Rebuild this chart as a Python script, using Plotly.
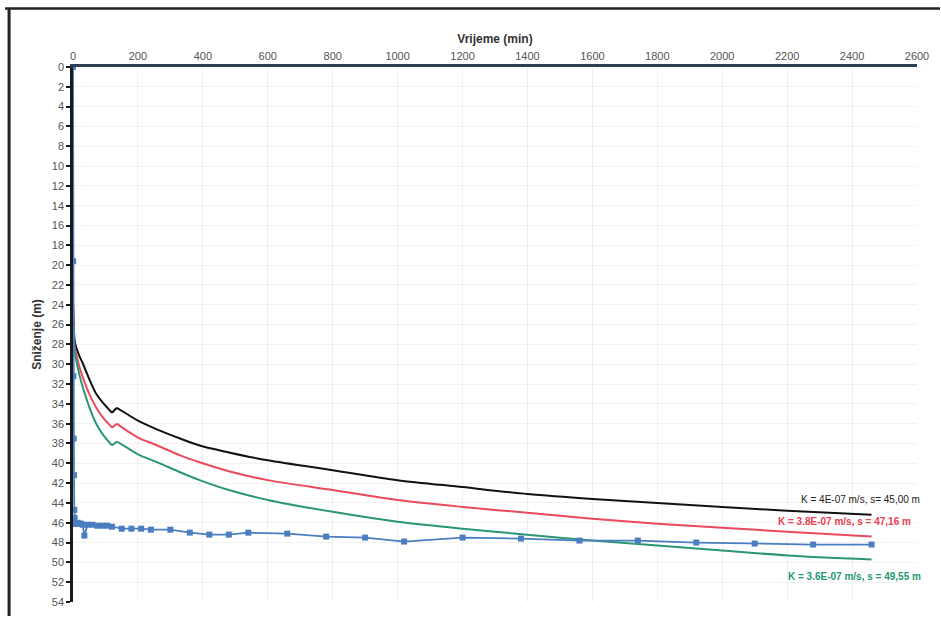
import plotly.graph_objects as go

# ---- data ----
t_model = [0.5, 5, 10, 20, 30, 50, 70, 90, 120, 135, 170, 200, 260, 330, 390, 480, 600, 800,
           1000, 1200, 1400, 1600, 1800, 2000, 2200, 2460]
s_black = [24.0, 27.6, 28.3, 29.2, 29.9, 31.5, 32.9, 33.8, 34.9, 34.4, 35.1, 35.7, 36.6, 37.5, 38.2,
           38.9, 39.7, 40.7, 41.7, 42.4, 43.1, 43.6, 44.0, 44.4, 44.8, 45.2]
s_red = [24.5, 28.2, 29.0, 30.3, 31.3, 33.0, 34.3, 35.3, 36.4, 36.0, 36.8, 37.4, 38.2, 39.2, 39.9,
         40.8, 41.7, 42.7, 43.7, 44.4, 45.0, 45.6, 46.1, 46.5, 46.9, 47.4]
s_green = [25.0, 28.6, 29.6, 31.1, 32.3, 34.3, 35.9, 37.0, 38.2, 37.8, 38.5, 39.1, 39.9, 40.9, 41.7,
           42.7, 43.7, 44.9, 45.9, 46.6, 47.2, 47.8, 48.3, 48.8, 49.3, 49.7]

t_obs = [0, 0.5, 1, 2, 3, 4, 5, 6, 8, 10, 15, 20, 25, 30, 35, 45, 60, 75, 90, 105, 120, 150,
         180, 210, 240, 300, 360, 420, 480, 540, 660, 780, 900, 1020, 1200, 1380, 1560, 1740,
         1920, 2100, 2280, 2460]
s_obs = [0, 19.6, 31.2, 37.5, 41.2, 44.7, 45.5, 46.1, 46.1, 46.1, 46.0, 46.1, 46.1, 46.2, 47.3,
         46.2, 46.2, 46.3, 46.3, 46.3, 46.4, 46.6, 46.6, 46.6, 46.7, 46.7, 47.0, 47.2, 47.2, 47.0,
         47.1, 47.4, 47.5, 47.9, 47.5, 47.6, 47.8, 47.8, 48.0, 48.1, 48.2, 48.2]

x_ticks = list(range(0, 2601, 200))
y_ticks = list(range(0, 55, 2))

labels = [
    ("K = 4E-07 m/s, s= 45,00 m", "#1a1a1a", 503, 800, False),
    ("K = 3.8E-07 m/s, s = 47,16 m", "#e8404f", 525, 777, True),
    ("K = 3.6E-07 m/s, s = 49,55 m", "#239a6e", 580, 787, True),
]

FONT = "Liberation Sans, Arial, sans-serif"
W, H = 941, 620
L, R, T, B = 73, 23, 67, 14

fig = go.Figure()
model = [(s_black, "#111111"), (s_red, "#ea4a5a"), (s_green, "#2b9676")]
k = t_model.index(120) + 1  # kink where the pumping rate changes
for s, col in model:
    # smooth branch before the kink, straight kink, smooth branch after it
    fig.add_trace(go.Scatter(x=t_model[:k], y=s[:k], mode="lines",
                             line=dict(color=col, width=2, shape="spline", smoothing=0.8),
                             showlegend=False))
    fig.add_trace(go.Scatter(x=t_model[k - 1:k + 1], y=s[k - 1:k + 1], mode="lines",
                             line=dict(color=col, width=2), showlegend=False))
    fig.add_trace(go.Scatter(x=t_model[k:], y=s[k:], mode="lines",
                             line=dict(color=col, width=2, shape="spline", smoothing=0.8),
                             showlegend=False))
fig.add_trace(go.Scatter(x=t_obs, y=s_obs, mode="lines+markers",
                         line=dict(color="#4a7ec0", width=1.8),
                         marker=dict(symbol="square", size=6, color="#4a7ec0"),
                         cliponaxis=False, showlegend=False))

for text, col, ypx, xpx, bold in labels:
    fig.add_annotation(text=("<b>%s</b>" % text) if bold else text,
                       xref="paper", yref="paper",
                       x=(xpx - L) / (W - L - R), y=1 - (ypx - T) / (H - T - B),
                       xanchor="left", yanchor="middle", showarrow=False,
                       font=dict(family=FONT, size=10, color=col))

# scanned page frame
fig.add_shape(type="line", xref="paper", yref="paper",
              x0=-(L - 5) / (W - L - R), x1=(W - L) / (W - L - R),
              y0=1 + (T - 8) / (H - T - B), y1=1 + (T - 8) / (H - T - B),
              line=dict(color="#222222", width=2.5))
fig.add_shape(type="line", xref="paper", yref="paper",
              x0=-(L - 9) / (W - L - R), x1=-(L - 9) / (W - L - R),
              y0=1 + (T - 8) / (H - T - B), y1=-(B) / (H - T - B),
              line=dict(color="#222222", width=3))

fig.update_layout(
    width=W, height=H,
    margin=dict(l=L, r=R, t=T, b=B),
    paper_bgcolor="white", plot_bgcolor="white",
    font=dict(family=FONT, size=11, color="#444444"),
    xaxis=dict(side="top", range=[0, 2600], tickvals=x_ticks,
               ticktext=[str(v) for v in x_ticks],
               showgrid=True, gridcolor="#f0f0f0", gridwidth=1, zeroline=False,
               showline=True, linecolor="#2f3f4f", linewidth=2.5, ticks="",
               tickfont=dict(size=11, color="#555555"),
               title=dict(text="<b>Vrijeme (min)</b>", standoff=4,
                          font=dict(size=12, color="#333333"))),
    yaxis=dict(range=[54, 0], tickvals=y_ticks,
               showgrid=True, gridcolor="#f2f2f2", gridwidth=1, zeroline=False,
               showline=True, linecolor="#1a1a1a", linewidth=2.5,
               ticks="outside", ticklen=4, tickwidth=2, tickcolor="#1a1a1a",
               tickfont=dict(size=11, color="#555555"),
               title=dict(text="<b>Sniženje (m)</b>", standoff=8,
                          font=dict(size=12, color="#333333"))),
)

fig.write_html("out.html")
